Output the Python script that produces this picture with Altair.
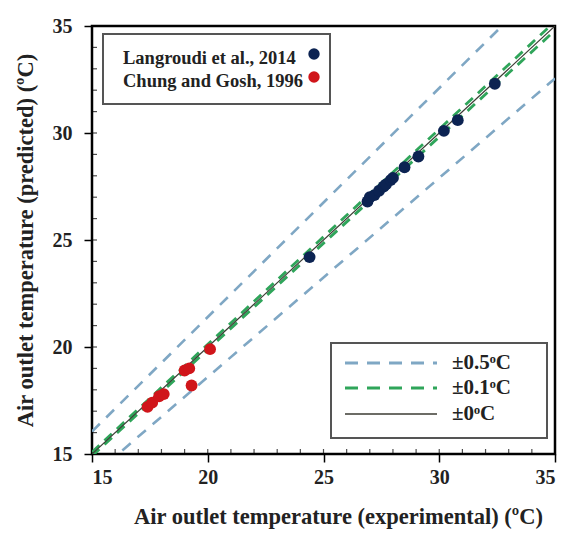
import altair as alt
import pandas as pd

# Measured vs. predicted air outlet temperature (degC)
lang_exp = [24.4, 26.9, 27.0, 27.2, 27.4, 27.6, 27.7, 27.9, 28.0, 28.5, 29.1, 30.2, 30.8, 32.4]
lang_pred = [24.2, 26.8, 27.0, 27.1, 27.3, 27.5, 27.6, 27.8, 27.9, 28.4, 28.9, 30.1, 30.6, 32.3]
chung_exp = [17.4, 17.6, 17.9, 18.1, 19.0, 19.2, 19.3, 20.1]
chung_pred = [17.2, 17.4, 17.7, 17.8, 18.9, 19.0, 18.2, 19.9]

series_names = ["Langroudi et al., 2014", "Chung and Gosh, 1996"]
series_colors = ["#0c2352", "#d0151a"]

# Agreement bands drawn as y = k * x
band_labels = ["±0.5ᵒC", "±0.1ᵒC", "±0ᵒC"]
band_factors = [[1.07, 0.93], [1.006, 0.994], [1.0]]
band_colors = ["#7fa7c4", "#2fa55a", "#3b3b33"]

x_range = [15, 35]
major_ticks = [15, 20, 25, 30, 35]
minor_ticks = list(range(16, 35))

W, H = 463, 428
FONT = "Liberation Serif"

pts = pd.DataFrame(
    [{"exp": e, "pred": p, "src": series_names[0]} for e, p in zip(lang_exp, lang_pred)]
    + [{"exp": e, "pred": p, "src": series_names[1]} for e, p in zip(chung_exp, chung_pred)]
)

xs = alt.Scale(domain=x_range, nice=False, zero=False)
ys = alt.Scale(domain=x_range, nice=False, zero=False)

x_axis = alt.Axis(values=major_ticks, title="Air outlet temperature (experimental) (ºC)",
                  grid=False, tickSize=8, tickWidth=1.5, tickColor="black",
                  domain=False, labelPadding=5, titlePadding=18, titleX=246)
y_axis = alt.Axis(values=major_ticks, title="Air outlet temperature (predicted) (ºC)",
                  grid=False, tickSize=8, tickWidth=1.5, tickColor="black",
                  domain=False, labelPadding=12, titlePadding=15)

layers = []
dash_styles = [[11, 9], [10, 7], []]
widths = [2.6, 2.8, 1.2]
for lab, facs, col, dash, w in zip(band_labels, band_factors, band_colors, dash_styles, widths):
    for k in facs:
        df = pd.DataFrame({"exp": x_range, "pred": [x_range[0] * k, x_range[1] * k]})
        kw = dict(color=col, strokeWidth=w, clip=True)
        if dash:
            kw["strokeDash"] = dash
        layers.append(
            alt.Chart(df).mark_line(**kw).encode(
                x=alt.X("exp:Q", scale=xs, axis=x_axis),
                y=alt.Y("pred:Q", scale=ys, axis=y_axis),
            )
        )

points = alt.Chart(pts).mark_circle(size=140, opacity=1).encode(
    x=alt.X("exp:Q", scale=xs, axis=x_axis),
    y=alt.Y("pred:Q", scale=ys, axis=y_axis),
    color=alt.Color("src:N", scale=alt.Scale(domain=series_names, range=series_colors), legend=None),
)
layers.append(points)

# inward ticks along the bottom and left edges
tick_df = pd.DataFrame({"exp": minor_ticks, "pred": minor_ticks})
layers.append(alt.Chart(tick_df).mark_tick(color="black", size=5, thickness=1.2).encode(
    x=alt.X("exp:Q", scale=xs, axis=x_axis), y=alt.value(H - 2.5)))
layers.append(alt.Chart(tick_df).mark_tick(color="black", size=5, thickness=1.2, orient="horizontal").encode(
    y=alt.Y("pred:Q", scale=ys, axis=y_axis), x=alt.value(2.5)))

one = pd.DataFrame({"a": [0]})

# legend: data sources (upper left)
layers.append(alt.Chart(one).mark_rect(fill="white", stroke="#555555", strokeWidth=2).encode(
    x=alt.value(11), x2=alt.value(238), y=alt.value(8), y2=alt.value(78)))
for name, col, yy in zip(series_names, series_colors, [32, 55]):
    layers.append(alt.Chart(pd.DataFrame({"t": [name]})).mark_text(
        align="left", baseline="middle", font=FONT, fontWeight="bold", fontSize=18.5,
        color="#222222").encode(x=alt.value(31), y=alt.value(yy), text="t:N"))
    layers.append(alt.Chart(one).mark_circle(size=130, opacity=1, color=col).encode(
        x=alt.value(222), y=alt.value(yy - 4)))

# legend: agreement bands (lower right)
layers.append(alt.Chart(one).mark_rect(fill="white", stroke="#555555", strokeWidth=2).encode(
    x=alt.value(239), x2=alt.value(455), y=alt.value(317), y2=alt.value(412)))
for lab, col, dash, w, yy in zip(band_labels, band_colors, dash_styles, widths, [337, 362, 388]):
    kw = dict(color=col, strokeWidth=w + 0.3)
    if dash:
        kw["strokeDash"] = [13, 9]
    layers.append(alt.Chart(one).mark_rule(**kw).encode(
        x=alt.value(253), x2=alt.value(345), y=alt.value(yy)))
    layers.append(alt.Chart(pd.DataFrame({"t": [lab]})).mark_text(
        align="left", baseline="middle", font=FONT, fontWeight="bold", fontSize=21,
        color="#222222").encode(x=alt.value(360), y=alt.value(yy), text="t:N"))

chart = alt.layer(*layers).properties(
    width=W, height=H, padding={"left": 92, "top": 26, "right": 17, "bottom": 79},
    autosize=alt.AutoSizeParams(type="none"),
).configure_view(stroke="black", strokeWidth=2.5).configure_axis(
    labelFont=FONT, labelFontSize=20, labelFontWeight="bold", labelColor="#222222",
    titleFont=FONT, titleFontSize=22.5, titleFontWeight="bold", titleColor="#222222",
)

chart.save("out.html", embed_options={"renderer": "svg", "actions": False})
